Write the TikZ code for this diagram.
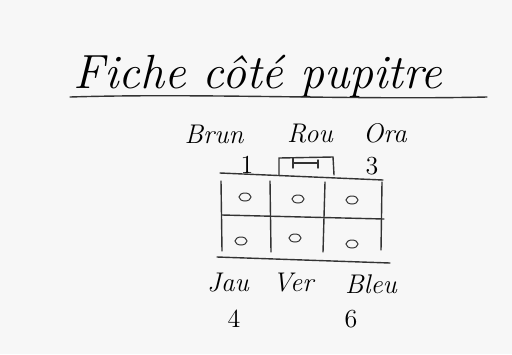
\documentclass[tikz,border=0pt]{standalone}
\usepackage{tikz}
\usetikzlibrary{positioning, calc}

\begin{document}
\begin{tikzpicture}[
    x=0.5pt, y=-0.5pt,
    label/.style={font=\itshape\fontsize{13.5}{16}\selectfont, inner sep=0pt, anchor=base},
    num/.style={font=\fontsize{13}{15}\selectfont, inner sep=0pt, anchor=base},
    pen/.style={draw=black!80, line width=0.7pt, line cap=round},
    hole/.style={pen, line width=0.5pt}
]
    \useasboundingbox[fill=black!3] (0,0) rectangle (512,354);

    % Title
    \node[font=\itshape\fontsize{24}{28}\selectfont, inner sep=0pt, anchor=base] (title) at (258,88) {Fiche côté pupitre};
    \draw[pen] (70,97) .. controls (200,93) and (350,100) .. (487,97);

    % Top labels
    \node[label] (brun) at (214,143) {Brun};
    \node[label] (rou) at (310,142) {Rou};
    \node[label] (ora) at (385,142) {Ora};
    \node[num] (un) at (247,173) {1};
    \node[num] (trois) at (372,174) {3};

    % Connector sketch
    \draw[pen] (279,175) -- (279,158) -- (333,157) -- (334,175);
    \draw[pen] (293,158) -- (293,168) (293,163) -- (318,163) (318,160) -- (318,168);

    % Switch grid
    \draw[pen] (220,173) -- (383,180);
    \draw[pen] (221,181) -- (222,251);
    \draw[pen] (270,181) -- (271,252);
    \draw[pen] (325,182) -- (323,252);
    \draw[pen] (382,182) -- (381,250);
    \draw[pen] (222,215) -- (384,219);
    \draw[pen] (217,257) -- (390,263);

    % Holes
    \foreach \cx/\cy in {245/197, 298/199, 352/200, 241/241, 295/238, 352/244}
        \draw[hole] (\cx,\cy) ellipse (6 and 4);

    % Bottom labels
    \node[label] (jau) at (228,291) {Jau};
    \node[label] (ver) at (293,291) {Ver};
    \node[label] (bleu) at (371,293) {Bleu};
    \node[num] (quatre) at (234,327) {4};
    \node[num] (six) at (351,327) {6};
\end{tikzpicture}
\end{document}
